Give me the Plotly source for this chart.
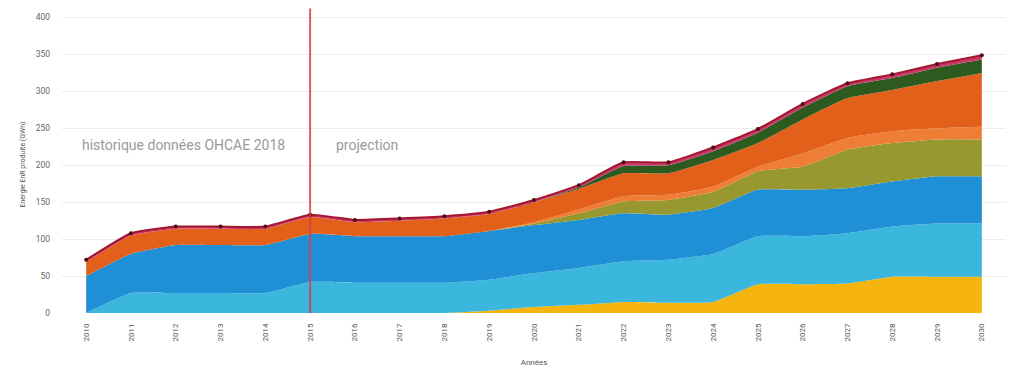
import plotly.graph_objects as go

years = list(range(2010, 2031))

# layer values (GWh), bottom to top
solaire = [0, 0, 0, 0, 0, 0, 0, 0, 0, 3, 8, 11, 15, 14, 15, 39, 39, 40, 49, 49, 49]
bleu_clair = [0, 27, 27, 27, 27, 42, 41, 41, 41, 42, 46, 50, 55, 58, 65, 65, 65, 68, 68, 72, 72]
bleu = [50, 53, 65, 65, 65, 65, 63, 63, 63, 66, 65, 65, 65, 61, 62, 63, 63, 61, 61, 64, 64]
olive = [0, 0, 0, 0, 0, 0, 0, 0, 0, 0, 2, 9, 16, 20, 22, 25, 31, 52, 52, 50, 50]
orange_clair = [0, 0, 0, 0, 0, 0, 0, 0, 0, 0, 2, 5, 7, 7, 7, 6, 18, 16, 16, 15, 17]
orange = [19, 25, 22, 22, 22, 23, 19, 21, 24, 23, 27, 28, 31, 29, 36, 32, 46, 54, 56, 64, 73]
vert = [0, 0, 0, 0, 0, 0, 0, 0, 0, 0, 0, 2, 10, 11, 12, 14, 16, 16, 16, 18, 18]
rose = [3, 3, 3, 3, 3, 3, 3, 3, 3, 3, 3, 3, 5, 4, 5, 5, 5, 4, 5, 5, 6]

series = [
    ("Solaire", solaire, "#F6B40E"),
    ("Série 2", bleu_clair, "#3BB6DC"),
    ("Série 3", bleu, "#1F8FD6"),
    ("Série 4", olive, "#97982F"),
    ("Série 5", orange_clair, "#EE7D35"),
    ("Série 6", orange, "#E2601A"),
    ("Série 7", vert, "#2D5A1E"),
]

fig = go.Figure()
for name, vals, col in series:
    fig.add_trace(go.Scatter(
        x=years, y=vals, name=name, stackgroup="one", mode="none",
        fillcolor=col, line=dict(width=0, color=col, shape="spline", smoothing=0.4),
        showlegend=False))

fig.add_trace(go.Scatter(
    x=years, y=rose, name="Total", stackgroup="one", mode="lines+markers",
    fillcolor="#C8386B", line=dict(width=2, color="#A3182F", shape="spline", smoothing=0.4),
    marker=dict(size=4, color="#4A0E1A"), showlegend=False))

fig.add_shape(type="line", x0=2015, x1=2015, xref="x", yref="paper", y0=0, y1=1.025,
              line=dict(color="rgba(222,60,70,0.85)", width=2))

fig.add_annotation(x=2012.18, y=228, text="historique données OHCAE 2018", showarrow=False,
                   font=dict(family="Roboto", size=14, color="#9a9a9a"))
fig.add_annotation(x=2016.26, y=228, text="projection", showarrow=False,
                   font=dict(family="Roboto", size=14, color="#9a9a9a"))

fig.update_layout(
    width=1019, height=381,
    margin=dict(l=54, r=21, t=8, b=76),
    paper_bgcolor="white", plot_bgcolor="white",
    font=dict(family="Roboto", color="#777"),
    xaxis=dict(range=[2009.46, 2030.54], tickmode="array", tickvals=years,
               ticktext=[str(y) for y in years], tickangle=-90, automargin=False,
               tickfont=dict(size=8, color="#555"), showgrid=False, zeroline=False,
               showline=False, ticks="", ticklabelstandoff=8,
               title=dict(text="Années", font=dict(size=8, color="#555"), standoff=18)),
    yaxis=dict(range=[0, 402], tickvals=list(range(0, 401, 50)), automargin=False,
               tickfont=dict(size=8.5, color="#666"), gridcolor="#ececec", gridwidth=1,
               zeroline=False, showline=False, ticks="", ticklabelstandoff=11,
               title=dict(text="Energie EnR produite (GWh)", font=dict(size=7, color="#555"), standoff=9)),
)

fig.write_html("out.html")
